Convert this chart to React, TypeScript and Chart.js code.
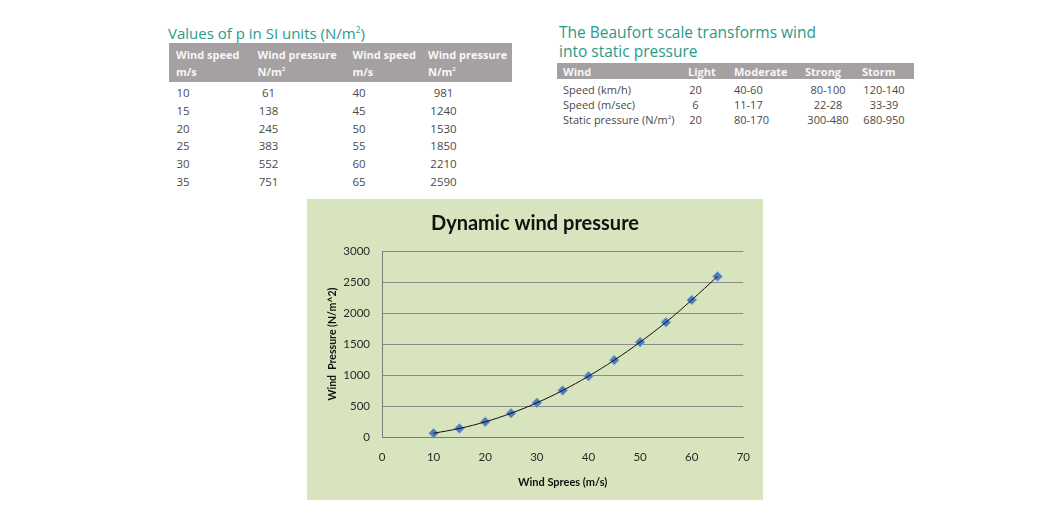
import React, { useEffect, useRef } from "react";
import { Chart, registerables } from "chart.js";

Chart.register(...registerables);

// ---------- Data ----------
const windSpeed = [10, 15, 20, 25, 30, 35, 40, 45, 50, 55, 60, 65];
const windPressure = [61, 138, 245, 383, 552, 751, 981, 1240, 1530, 1850, 2210, 2590];

const table1Left = [
  ["10", "61"],
  ["15", "138"],
  ["20", "245"],
  ["25", "383"],
  ["30", "552"],
  ["35", "751"],
];
const table1Right = [
  ["40", "981"],
  ["45", "1240"],
  ["50", "1530"],
  ["55", "1850"],
  ["60", "2210"],
  ["65", "2590"],
];

const beaufortHeader = ["Wind", "Light", "Moderate", "Strong", "Storm"];
const beaufortRowLabels = ["Speed (km/h)", "Speed (m/sec)", "Static pressure (N/m"];
const beaufortLight = ["20", "6", "20"];
const beaufortModerate = ["40-60", "11-17", "80-170"];
const beaufortStrong = ["80-100", "22-28", "300-480"];
const beaufortStorm = ["120-140", "33-39", "680-950"];

const xTicks = [0, 10, 20, 30, 40, 50, 60, 70];
const yTicks = [0, 500, 1000, 1500, 2000, 2500, 3000];

// ---------- Styles ----------
const TEAL = "#2a9a8a";
const HEAD_BG = "#a5a0a2";
const HEAD_FG = "#f8f6f6";
const BODY_FG = "#4a4a4a";
const TFONT = "'Open Sans', 'Noto Sans', sans-serif";

type Align = "left" | "center" | "right";

function Txt(props: {
  x: number;
  y: number;
  align?: Align;
  size?: number;
  bold?: boolean;
  weight?: number;
  color?: string;
  children: React.ReactNode;
}) {
  const { x, y, align = "left", size = 11, bold = false, color = BODY_FG } = props;
  const tx = align === "left" ? "0" : align === "center" ? "-50%" : "-100%";
  return (
    <div
      style={{
        position: "absolute",
        left: x,
        top: y,
        transform: `translate(${tx}, -50%)`,
        whiteSpace: "pre",
        fontFamily: TFONT,
        fontSize: size,
        fontWeight: props.weight ?? (bold ? 700 : 400),
        color,
        lineHeight: 1,
      }}
    >
      {props.children}
    </div>
  );
}

const Sup = () => (
  <sup style={{ fontSize: "0.55em", verticalAlign: "0.7em" }}>2</sup>
);

function ChartPanel() {
  const ref = useRef<HTMLCanvasElement | null>(null);
  useEffect(() => {
    if (!ref.current) return;
    const pts = windSpeed.map((x, i) => ({ x, y: windPressure[i] }));
    const chart = new Chart(ref.current, {
      type: "scatter",
      data: {
        datasets: [
          {
            data: pts,
            showLine: true,
            borderColor: "#111111",
            borderWidth: 1,
            tension: 0.4,
            pointRadius: 0,
            pointHoverRadius: 0,
          },
          {
            data: pts,
            showLine: false,
            pointStyle: "rectRot",
            pointRadius: 4.8,
            backgroundColor: "#4a7dbb",
            borderColor: "#7fa3d0",
            borderWidth: 1,
          },
        ],
      },
      options: {
        animation: false,
        responsive: false,
        layout: { padding: 0 },
        plugins: {
          legend: { display: false },
          tooltip: { enabled: false },
          title: {
            display: true,
            text: "Dynamic wind pressure",
            color: "#111111",
            font: { family: "Lato, 'Open Sans', sans-serif", size: 20, weight: "bold", lineHeight: 1.2 },
            padding: { top: 13, bottom: 15 },
          },
        },
        scales: {
          x: {
            type: "linear",
            min: xTicks[0],
            max: xTicks[xTicks.length - 1],
            afterFit: (s: any) => {
              s.height = 63;
            },
            afterBuildTicks: (s: any) => {
              s.ticks = xTicks.map((v) => ({ value: v }));
            },
            grid: { display: false, drawTicks: false },
            border: { display: true, color: "#7a7a7a", width: 1 },
            ticks: {
              color: "#2a2a2a",
              padding: 13,
              font: { family: "Lato, sans-serif", size: 11.5 },
              callback: (v: any) => String(v),
            },
            title: {
              display: true,
              text: "Wind Sprees (m/s)",
              color: "#111111",
              font: { family: "Lato, sans-serif", size: 11, weight: "bold", lineHeight: 1.2 },
              padding: { top: 0, bottom: 11 },
            },
          },
          y: {
            type: "linear",
            min: yTicks[0],
            max: yTicks[yTicks.length - 1],
            afterFit: (s: any) => {
              s.width = 75;
            },
            afterBuildTicks: (s: any) => {
              s.ticks = yTicks.map((v) => ({ value: v }));
            },
            grid: { color: "#8a8a8a", lineWidth: 1, drawTicks: false },
            border: { display: true, color: "#7a7a7a", width: 1 },
            ticks: {
              color: "#2a2a2a",
              padding: 12,
              font: { family: "Lato, sans-serif", size: 11.5 },
              callback: (v: any) => String(v),
            },
            title: {
              display: true,
              text: "Wind  Pressure (N/m^2)",
              color: "#111111",
              font: { family: "Lato, sans-serif", size: 10.5, weight: "bold", lineHeight: 1.2 },
              padding: { top: 19, bottom: 0 },
            },
          },
          yRight: {
            type: "linear",
            position: "right",
            display: true,
            min: 0,
            max: 1,
            afterFit: (s: any) => {
              s.width = 17;
            },
            grid: { display: false, drawTicks: false },
            border: { display: false },
            ticks: { display: false },
          },
        },
      },
    });
    return () => chart.destroy();
  }, []);
  return (
    <div
      style={{
        position: "absolute",
        left: 307,
        top: 199,
        width: 456,
        height: 301,
        background: "#d7e4bd",
      }}
    >
      <canvas ref={ref} width={456} height={301} style={{ display: "block" }} />
    </div>
  );
}

const t1RowY = [93.3, 111, 128.7, 146.4, 164.1, 181.8];
const t2RowY = [88.5, 104, 119];

export default function App() {
  return (
    <div
      style={{
        position: "fixed",
        left: 0,
        top: 0,
        width: 1050,
        height: 520,
        background: "#ffffff",
        overflow: "hidden",
      }}
    >
      {/* Table 1 */}
      <Txt x={168} y={33} size={15} color={TEAL}>
        Values of p in SI units (N/m<Sup />)
      </Txt>
      <div style={{ position: "absolute", left: 169, top: 43, width: 343, height: 39, background: HEAD_BG }} />
      <Txt x={176} y={54} bold color={HEAD_FG}>Wind speed</Txt>
      <Txt x={176} y={71} bold color={HEAD_FG}>m/s</Txt>
      <Txt x={257.5} y={54} bold color={HEAD_FG}>Wind pressure</Txt>
      <Txt x={257.5} y={71} bold color={HEAD_FG}>N/m<Sup /></Txt>
      <Txt x={352.5} y={54} bold color={HEAD_FG}>Wind speed</Txt>
      <Txt x={352.5} y={71} bold color={HEAD_FG}>m/s</Txt>
      <Txt x={428} y={54} bold color={HEAD_FG}>Wind pressure</Txt>
      <Txt x={428} y={71} bold color={HEAD_FG}>N/m<Sup /></Txt>
      {table1Left.map((r, i) => (
        <React.Fragment key={"l" + i}>
          <Txt x={176.5} y={t1RowY[i]} size={11.5}>{r[0]}</Txt>
          <Txt x={268.5} y={t1RowY[i]} size={11.5} align="center">{r[1]}</Txt>
        </React.Fragment>
      ))}
      {table1Right.map((r, i) => (
        <React.Fragment key={"r" + i}>
          <Txt x={352.5} y={t1RowY[i]} size={11.5}>{r[0]}</Txt>
          <Txt x={443.5} y={t1RowY[i]} size={11.5} align="center">{r[1]}</Txt>
        </React.Fragment>
      ))}

      {/* Table 2 */}
      <Txt x={559} y={33} size={15.5} color={TEAL}>The Beaufort scale transforms wind</Txt>
      <Txt x={559} y={51.5} size={15.5} color={TEAL}>into static pressure</Txt>
      <div style={{ position: "absolute", left: 557, top: 63, width: 357, height: 16, background: HEAD_BG }} />
      <Txt x={563} y={71} bold color={HEAD_FG}>{beaufortHeader[0]}</Txt>
      <Txt x={688} y={71} bold color={HEAD_FG}>{beaufortHeader[1]}</Txt>
      <Txt x={734} y={71} bold color={HEAD_FG}>{beaufortHeader[2]}</Txt>
      <Txt x={805} y={71} bold color={HEAD_FG}>{beaufortHeader[3]}</Txt>
      <Txt x={862} y={71} bold color={HEAD_FG}>{beaufortHeader[4]}</Txt>
      {beaufortRowLabels.map((lab, i) => (
        <React.Fragment key={"b" + i}>
          <Txt x={563} y={t2RowY[i]}>
            {lab}
            {i === 2 ? (
              <>
                <Sup />)
              </>
            ) : null}
          </Txt>
          <Txt x={695.5} y={t2RowY[i]} align="center">{beaufortLight[i]}</Txt>
          <Txt x={734} y={t2RowY[i]}>{beaufortModerate[i]}</Txt>
          <Txt x={828} y={t2RowY[i]} align="center">{beaufortStrong[i]}</Txt>
          <Txt x={884} y={t2RowY[i]} align="center">{beaufortStorm[i]}</Txt>
        </React.Fragment>
      ))}

      <ChartPanel />
    </div>
  );
}
